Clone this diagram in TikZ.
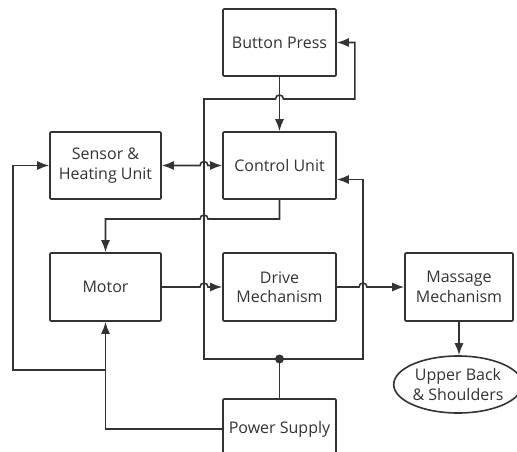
\documentclass[tikz,border=0pt]{standalone}
\usepackage{fontspec}
\setmainfont{Open Sans}
\usetikzlibrary{arrows.meta,calc,shapes.geometric}
\definecolor{ink}{HTML}{333333}

\begin{document}
\begin{tikzpicture}[x=1pt, y=1pt, >={Latex[length=12pt,width=9pt]},
    color=ink, line width=1.6pt,
    box/.style={draw, rounded corners=1pt, minimum width=113pt, minimum height=67pt,
        inner sep=2pt, align=center, font=\fontsize{16}{19.5}\selectfont}]
    \useasboundingbox (0,0) rectangle (517,451);
    \clip (0,0) rectangle (517,451);

    % Các khối
    \node[box] (btn) at (279.5,408.5) {Button Press};
    \node[box] (ctrl) at (279.5,285.5) {Control Unit};
    \node[box, minimum width=111pt] (sensor) at (105.5,285.5) {Sensor \&\\Heating Unit};
    \node[box, minimum width=111pt, minimum height=68pt] (motor) at (105.5,164) {Motor};
    \node[box, minimum height=68pt] (drive) at (279.5,164) {Drive\\Mechanism};
    \node[box, minimum width=108pt, minimum height=68pt] (massage) at (459,164) {Massage\\Mechanism};
    \node[box, ellipse, minimum width=126pt, minimum height=57pt, inner sep=0pt] (target) at (458,66.5) {Upper Back\\\& Shoulders};
    \node[box, minimum height=60pt] (power) at (279.5,22) {Power Supply};

    % Điểm nối
    \coordinate (junc) at (279.5,92);
    \coordinate (busL) at (204,92);
    \coordinate (busR) at (363,92);
    \coordinate (split) at (105.5,81);

    % Nguồn cấp
    \draw (power.north) -- (junc);
    \fill (junc) circle (4.5);
    \draw[->] (junc) -- (busL) |- ([xshift=-4pt]btn.south |- 0,352)
        arc[start angle=180, end angle=0, radius=4] -| ([xshift=18pt]btn.east) -- (btn.east);
    \draw[->] (junc) -- (busR) |- ($(ctrl.east)+(0,-14)$);
    \draw[->] (power.west) -| (motor.south);
    \draw[->] (split) -| ([xshift=-36pt]sensor.west) -- (sensor.west);

    % Luồng tín hiệu
    \draw[->] (btn.south) -- (ctrl.north);
    \draw[<->] (sensor.east) -- ([xshift=-4pt]busL |- sensor.east)
        arc[start angle=180, end angle=0, radius=4] -- (ctrl.west);
    \draw[->] (ctrl.south) |- ([xshift=4pt]busL |- 0,232)
        arc[start angle=0, end angle=180, radius=4] -| (motor.north);
    \draw[->] (motor.east) -- ([xshift=-4pt]busL |- motor.east)
        arc[start angle=180, end angle=0, radius=4] -- (drive.west);
    \draw[->] (drive.east) -- ([xshift=-4pt]busR |- drive.east)
        arc[start angle=180, end angle=0, radius=4] -- (massage.west);
    \draw[->] (massage.south) -- (massage.south |- target.north);
\end{tikzpicture}
\end{document}
